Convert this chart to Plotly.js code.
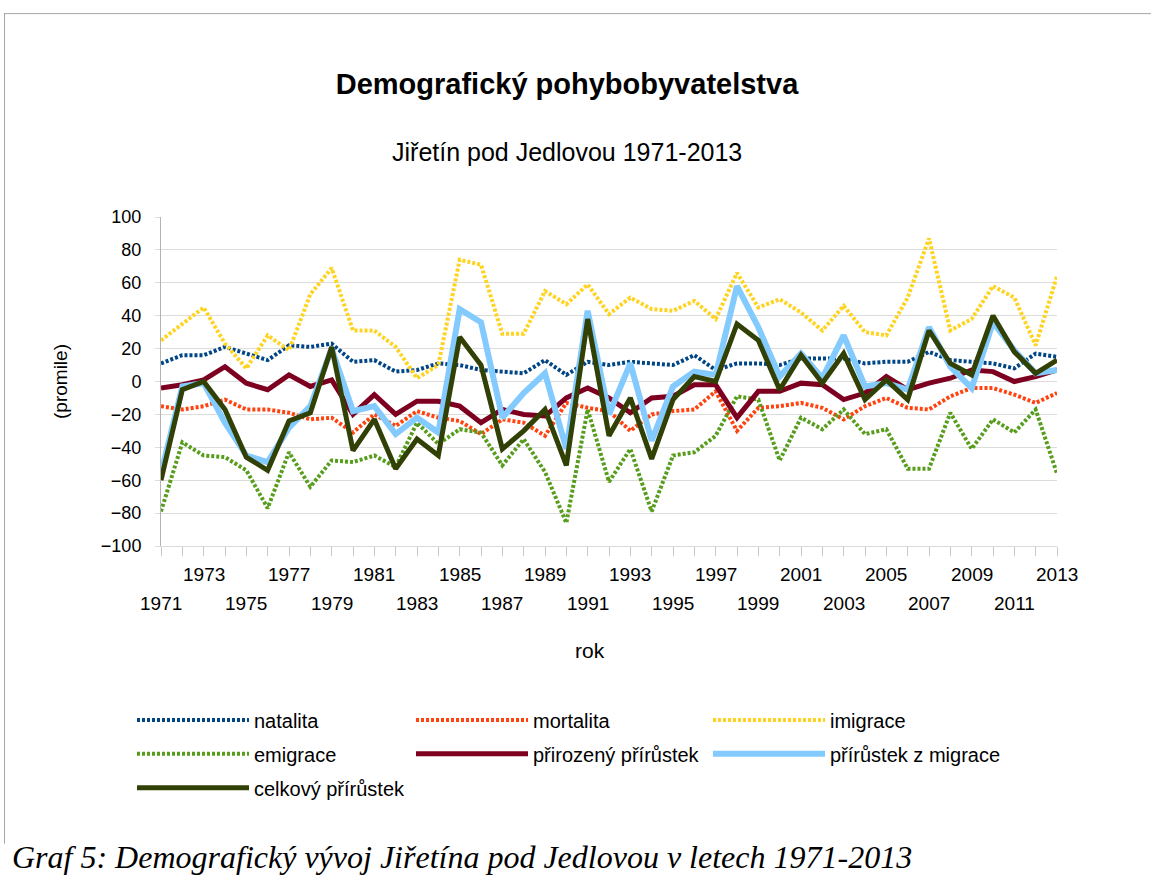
<!DOCTYPE html>
<html><head><meta charset="utf-8">
<script src="https://cdn.plot.ly/plotly-3.0.1.min.js"></script>
<style>html,body{margin:0;padding:0;background:#fff;} #chart{width:1151px;height:884px;}</style>
</head><body><div id="chart"></div>
<script>
// ---- data (per mille) ----
const years = [1971,1972,1973,1974,1975,1976,1977,1978,1979,1980,
  1981,1982,1983,1984,1985,1986,1987,1988,1989,1990,
  1991,1992,1993,1994,1995,1996,1997,1998,1999,2000,
  2001,2002,2003,2004,2005,2006,2007,2008,2009,2010,
  2011,2012,2013];
const natalita = [11,16,16,21,17,13,22,21,23,12, 13,6,7,11,10,7,6,5,13,4, 12,10,12,11,10,16,7,11,11,10, 14,14,14,11,12,12,18,13,12,11, 8,17,15];
const mortalita = [-15,-17,-15,-11,-17,-17,-19,-23,-22,-31, -20,-27,-18,-22,-24,-32,-23,-25,-33,-13, -16,-18,-30,-20,-18,-17,-6,-30,-16,-15, -13,-16,-23,-15,-10,-16,-17,-9,-4,-4, -8,-13,-7];
const imigrace = [25,35,45,23,8,28,19,53,69,31, 31,21,2,10,74,71,29,29,55,47, 59,41,51,44,43,49,38,66,45,50, 42,31,46,30,28,51,87,31,38,58, 51,22,64];
const emigrace = [-79,-37,-45,-46,-54,-77,-43,-64,-48,-49, -45,-52,-25,-38,-29,-31,-51,-35,-55,-86, -17,-61,-41,-79,-45,-43,-33,-9,-11,-48, -22,-29,-17,-32,-29,-53,-53,-19,-41,-23, -31,-17,-56];
const prirozeny = [-4,-2,1,9,-1,-5,4,-3,1,-20, -8,-20,-12,-12,-15,-25,-17,-20,-21,-10, -4,-10,-19,-10,-9,-2,-2,-22,-6,-6, -1,-2,-11,-7,3,-5,-1,2,7,6, 0,3,7];
const migrace = [-56,-3,-1,-25,-45,-49,-28,-15,20,-18, -15,-32,-22,-31,44,36,-22,-7,5,-41, 43,-20,11,-36,-3,6,4,58,33,3, 17,2,28,-3,-1,-5,33,9,-4,36, 19,5,7];
const celkovy = [-60,-5,0,-17,-46,-54,-24,-19,21,-42, -23,-53,-35,-45,27,10,-41,-30,-17,-51, 38,-33,-10,-47,-11,3,0,35,25,-5, 16,-1,17,-11,1,-11,31,11,4,40, 18,5,13];

const seriesNames = ['natalita','mortalita','imigrace','emigrace','přirozený přírůstek','přírůstek z migrace','celkový přírůstek'];
const labelRowTop = [1973,1977,1981,1985,1989,1993,1997,2001,2005,2009,2013];
const labelRowBottom = [1971,1975,1979,1983,1987,1991,1995,1999,2003,2007,2011];

// ---- layout helpers ----
const W = 1151, H = 884;
const L = 161, R = 1057, T = 216.5, B = 546.5;
const px = x => (x - L) / (R - L);
const py = y => (B - y) / (B - T);
const FONT = 'Liberation Sans, Arial, Helvetica, sans-serif';

// style + legend placement (pixel position of legend sample start / row centre)
const styles = [
  {color:'#004586', width:4, dash:'3px,2px', lx:137, ly:721},
  {color:'#ff420e', width:4, dash:'3px,2px', lx:416, ly:721},
  {color:'#ffd320', width:4, dash:'3px,2px', lx:713, ly:721},
  {color:'#579d1c', width:4, dash:'3px,2px', lx:137, ly:755},
  {color:'#7e0021', width:5, dash:'solid', lx:416, ly:755},
  {color:'#83caff', width:6, dash:'solid', lx:713, ly:755},
  {color:'#314004', width:5, dash:'solid', lx:137, ly:789}
];
const values = [natalita, mortalita, imigrace, emigrace, prirozeny, migrace, celkovy];
const legendKey = i => (i === 0 ? 'legend' : 'legend' + (i + 1));

const traces = values.map((v, i) => ({
  type: 'scatter', mode: 'lines', x: years, y: v, name: seriesNames[i],
  line: {color: styles[i].color, width: styles[i].width, dash: styles[i].dash},
  legend: legendKey(i), hoverinfo: 'x+y+name'
}));

const annotations = [];
labelRowTop.forEach(y => annotations.push({xref:'x', x:y, yref:'paper', y:py(575), yanchor:'middle', xanchor:'center', showarrow:false, text:String(y), font:{family:FONT, size:19, color:'#000'}}));
labelRowBottom.forEach(y => annotations.push({xref:'x', x:y, yref:'paper', y:py(604), yanchor:'middle', xanchor:'center', showarrow:false, text:String(y), font:{family:FONT, size:19, color:'#000'}}));
annotations.push({xref:'paper', x:px(567), yref:'paper', y:py(151), xanchor:'center', yanchor:'middle', showarrow:false, text:'Jiřetín pod Jedlovou 1971-2013', font:{family:FONT, size:25, color:'#000'}});
annotations.push({xref:'paper', x:px(590), yref:'paper', y:py(651), xanchor:'center', yanchor:'middle', showarrow:false, text:'rok', font:{family:FONT, size:21, color:'#000'}});
annotations.push({xref:'paper', x:px(10), yref:'paper', y:py(858), xanchor:'left', yanchor:'middle', showarrow:false, text:'<i>Graf 5: Demografický vývoj Jiřetína pod Jedlovou v letech 1971-2013</i>', font:{family:'Liberation Serif, Times New Roman, serif', size:32, color:'#000'}});

const layout = {
  width: W, height: H,
  margin: {l:L, r:W-R, t:T, b:H-B, pad:0},
  paper_bgcolor:'#fff', plot_bgcolor:'#fff',
  title: {text:'<b>Demografický pohybobyvatelstva</b>', xref:'container', x:567/W, xanchor:'center', yref:'container', y:1-84/H, yanchor:'middle', font:{family:FONT, size:29, color:'#000'}},
  xaxis: {type:'linear', range:[1971, 2013], tickmode:'array', tickvals:years, showticklabels:false, ticks:'outside', ticklen:9, tickcolor:'#c8c8c8', showgrid:false, zeroline:false, showline:true, linecolor:'#dcdcdc', linewidth:1, fixedrange:true},
  yaxis: {range:[-100, 100], tickmode:'linear', tick0:-100, dtick:20, ticks:'outside', ticklen:5, tickcolor:'#dcdcdc', gridcolor:'#dcdcdc', gridwidth:1, zeroline:false, showline:true, linecolor:'#b3b3b3', linewidth:1, tickfont:{family:FONT, size:18, color:'#000'}, ticklabelstandoff:10,
    title:{text:'(promile)', font:{family:FONT, size:19, color:'#000'}, standoff:28}, fixedrange:true},
  showlegend: true,
  annotations: annotations,
  shapes: [
    {type:'line', xref:'paper', yref:'paper', x0:px(4), x1:px(1151), y0:py(12.5), y1:py(12.5), line:{color:'#a6a6a6', width:1}},
    {type:'line', xref:'paper', yref:'paper', x0:px(4.5), x1:px(4.5), y0:py(12), y1:py(845), line:{color:'#a6a6a6', width:1}}
  ]
};
styles.forEach((s, i) => {
  layout[legendKey(i)] = {orientation:'h', xanchor:'left', yanchor:'middle', x:px(s.lx - 5), y:py(s.ly),
    itemwidth:112, bgcolor:'rgba(0,0,0,0)', font:{family:FONT, size:20, color:'#000'}};
});

Plotly.newPlot('chart', traces, layout, {displayModeBar:false, staticPlot:true});
</script>
</body></html>
